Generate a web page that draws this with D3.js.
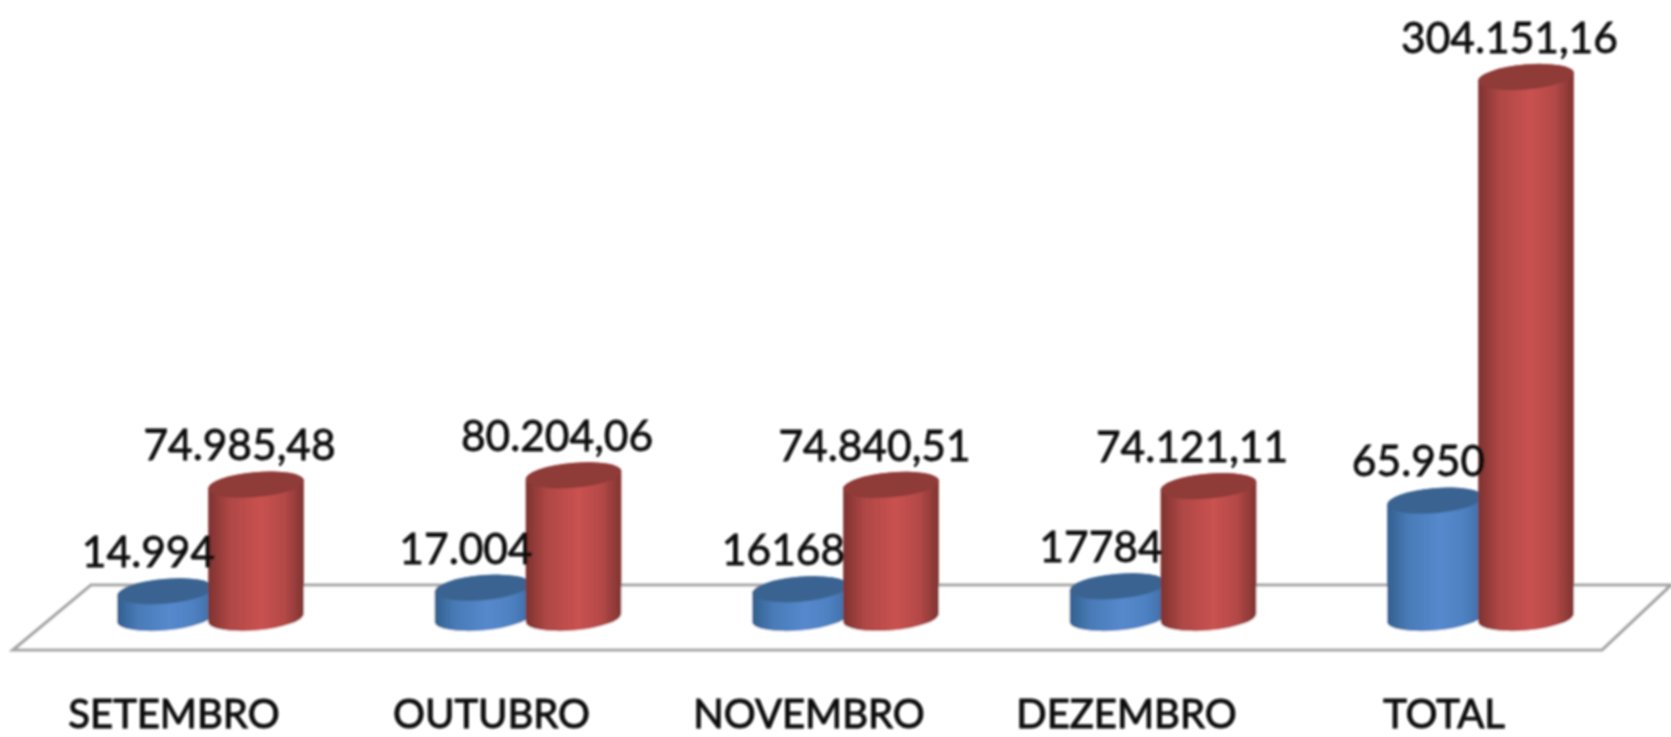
<!DOCTYPE html>
<html><head><meta charset="utf-8">
<style>html,body{margin:0;padding:0;background:#fff;overflow:hidden}svg{display:block}</style>
<script src="https://cdn.jsdelivr.net/npm/d3@7"></script></head>
<body><svg id="c" width="1671" height="737"></svg>
<script>
const categories = ["SETEMBRO","OUTUBRO","NOVEMBRO","DEZEMBRO","TOTAL"];
const blueValues = [14994,17004,16168,17784,65950];
const redValues = [74985.48,80204.06,74840.51,74121.11,304151.16];
const blueLabels = ["14.994","17.004","16168","17784","65.950"];
const redLabels = ["74.985,48","80.204,06","74.840,51","74.121,11","304.151,16"];

const RX=48, RY=12.5, TILT=-5;
const svg=d3.select("#c");
const x=d3.scalePoint().domain(categories).range([210.5,1480.5]);
const y=d3.scaleLinear().domain([0,304151.16]).range([618,77]);
const dx=45.5;
const defs=svg.append("defs");
function grad(id,edgeL,mid,edgeR){
  const g=defs.append("linearGradient").attr("id",id);
  [[0,edgeL],[.22,d3.interpolateRgb(edgeL,mid)(.65)],[.55,mid],[.8,d3.interpolateRgb(mid,edgeR)(.3)],[1,edgeR]]
   .forEach(([o,c])=>g.append("stop").attr("offset",o).attr("stop-color",c));
}
grad("gb","#32608f","#5589cd","#3f6ea6");
grad("gr","#7d3230","#c95250","#7f3331");
defs.append("filter").attr("id","soft").attr("x","-5%").attr("y","-5%").attr("width","110%").attr("height","110%")
  .append("feGaussianBlur").attr("stdDeviation",0.8);

const root=svg.append("g").attr("filter","url(#soft)");
const fx=d3.scaleLinear().domain([0,1]).range([13,1602]);
const floorPath=d3.line()([[fx(0),650],[fx(1),650],[1671,585],[91,585]])+"Z";
root.append("path").attr("d",floorPath).attr("fill","#fff").attr("stroke","#a5a5a5").attr("stroke-width",3.2);

const px=RX*Math.cos(TILT*Math.PI/180), py=-RX*Math.sin(TILT*Math.PI/180);
function body(cx,yt,yb){
  const a=`A${RX} ${RY} ${TILT} 0 0`;
  return `M${cx-px} ${yt+py}L${cx-px} ${yb+py}${a} ${cx+px} ${yb-py}L${cx+px} ${yt-py}${a} ${cx-px} ${yt+py}Z`;
}
function cylinders(values,off,fill,top,cls){
  const g=root.append("g").selectAll("g."+cls).data(values).join("g").attr("class",cls);
  g.append("path").attr("d",(d,i)=>body(x(categories[i])+off,y(d),y(0))).attr("fill",`url(#${fill})`);
  g.append("ellipse").attr("rx",RX).attr("ry",RY)
    .attr("transform",(d,i)=>`translate(${x(categories[i])+off},${y(d)}) rotate(${TILT})`).attr("fill",top);
}
cylinders(blueValues,-dx,"gb","#3b6491","b");
cylinders(redValues,dx,"gr","#8f3a38","r");

function labels(vals,texts,off){
  root.append("g").selectAll("text").data(vals).join("text")
   .attr("x",(d,i)=>x(categories[i])+off-16.5)
   .attr("y",d=>y(d)-39.5)
   .attr("dy","0.36em").attr("text-anchor","middle")
   .attr("font-family","Lato").attr("font-size",42.5).attr("fill","#0a0a0a")
   .attr("stroke","#0a0a0a").attr("stroke-width",.8)
   .text((d,i)=>texts[i]);
}
labels(blueValues,blueLabels,-dx);
labels(redValues,redLabels,dx);

const axis=d3.axisBottom(x).tickSize(0).tickPadding(0);
const ax=root.append("g").attr("transform","translate(-37,714)").call(axis);
ax.select(".domain").remove();
ax.selectAll("text").attr("font-family","Lato").attr("font-size",40).attr("font-weight",400)
  .attr("fill","#0a0a0a").attr("stroke","#0a0a0a").attr("stroke-width",1)
  .attr("y",0).attr("dy","0.36em").attr("text-anchor","middle");
</script></body></html>
